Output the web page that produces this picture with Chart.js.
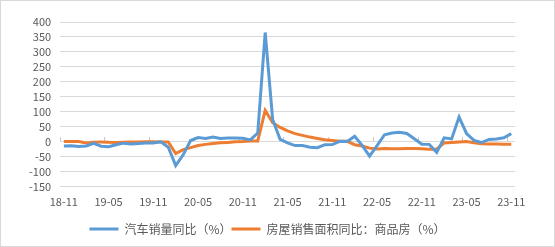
<!DOCTYPE html>
<html>
<head>
<meta charset="utf-8">
<script src="https://cdn.jsdelivr.net/npm/chart.js@4"></script>
<style>
  html, body { margin: 0; padding: 0; background: #fff; }
  .frame { width: 555px; height: 247px; box-sizing: border-box; border: 1px solid #d9d9d9; }
  canvas { display: block; }
</style>
</head>
<body>
<div class="frame"><canvas id="chart" width="553" height="245"></canvas></div>
<script>
// months 2018-11 .. 2023-11
const months = [
  '18-11', '18-12',
  '19-01', '19-02', '19-03', '19-04', '19-05', '19-06', '19-07', '19-08', '19-09', '19-10', '19-11', '19-12',
  '20-01', '20-02', '20-03', '20-04', '20-05', '20-06', '20-07', '20-08', '20-09', '20-10', '20-11', '20-12',
  '21-01', '21-02', '21-03', '21-04', '21-05', '21-06', '21-07', '21-08', '21-09', '21-10', '21-11', '21-12',
  '22-01', '22-02', '22-03', '22-04', '22-05', '22-06', '22-07', '22-08', '22-09', '22-10', '22-11', '22-12',
  '23-01', '23-02', '23-03', '23-04', '23-05', '23-06', '23-07', '23-08', '23-09', '23-10', '23-11'
];

// 汽车销量同比（%）
const carSales = [
  -13.9, -13.0,
  -15.8, -13.8, -5.2, -14.6, -16.4, -9.6, -4.3, -6.9, -5.2, -4.0, -3.6, -0.1,
  -18.0, -79.1, -43.3, 4.4, 14.5, 11.6, 16.4, 11.6, 12.8, 12.5, 11.7, 6.4,
  29.5, 365.0, 74.9, 8.6, -3.1, -12.4, -11.9, -18.1, -19.6, -9.4, -9.1, 1.6,
  0.9, 18.7, -11.7, -47.6, -12.6, 23.8, 29.7, 32.1, 28.1, 10.4, -7.9, -8.4,
  -35.0, 13.5, 9.7, 82.7, 27.9, 4.8, -2.2, 8.2, 9.5, 13.8, 27.4
];

// 房屋销售面积同比：商品房（%）
const housingArea = [
  1.4, 1.3,
  1.3, -3.6, -0.9, -0.3, -1.6, -2.2, -1.3, -0.6, -0.1, 0.1, 0.2, -0.1,
  -0.1, -39.2, -26.3, -19.3, -12.3, -8.4, -5.8, -3.3, -1.8, 0.0, 1.3, 3.2,
  3.2, 104.9, 63.8, 48.1, 36.3, 27.5, 21.5, 15.9, 11.3, 7.2, 4.8, 1.9,
  1.9, -9.6, -13.8, -20.9, -23.6, -22.2, -23.1, -23.0, -22.2, -22.3, -23.3, -24.3,
  -24.3, -3.6, -1.8, -0.4, 0.9, -2.8, -6.5, -7.1, -7.5, -7.8, -8.0
];

const textColor = '#595959';
const gridColor = '#d9d9d9';
const fontFamily = '"Microsoft YaHei", "Noto Sans CJK SC", sans-serif';

new Chart(document.getElementById('chart'), {
  type: 'line',
  data: {
    labels: months,
    datasets: [
      {
        label: '汽车销量同比（%）',
        data: carSales,
        borderColor: '#5b9bd5',
        backgroundColor: '#5b9bd5',
        borderWidth: 3,
        pointRadius: 0,
        tension: 0,
        xAxisID: 'x'
      },
      {
        label: '房屋销售面积同比：商品房（%）',
        data: housingArea,
        borderColor: '#ed7d31',
        backgroundColor: '#ed7d31',
        borderWidth: 3,
        pointRadius: 0,
        tension: 0,
        xAxisID: 'x'
      }
    ]
  },
  options: {
    responsive: false,
    animation: false,
    layout: { padding: { left: 19, right: 39, top: 21, bottom: 1 } },
    scales: {
      x: {
        type: 'category',
        offset: true,
        grid: { display: false, drawTicks: false },
        border: { display: false },
        ticks: {
          autoSkip: false,
          maxRotation: 0,
          padding: 8,
          color: textColor,
          font: { family: fontFamily, size: 11 },
          callback: (v, i) => (i % 6 === 0 ? months[i] : '')
        },
        // extra room under the labels, before the legend
        afterFit: scale => { scale.height += 7; }
      },
      // horizontal axis line crossing at zero, only tick marks
      x0: {
        type: 'category',
        axis: 'x',
        position: { y: 0 },
        offset: true,
        grid: {
          offset: true,
          drawOnChartArea: false,
          drawTicks: true,
          tickLength: -5,
          color: ctx => (ctx.index % 6 === 0 ? '#c8c8c8' : 'rgba(0,0,0,0)')
        },
        border: { display: false },
        ticks: { display: false, autoSkip: false }
      },
      y: {
        min: -150,
        max: 400,
        grid: { color: gridColor, drawTicks: false },
        border: { display: false },
        ticks: {
          stepSize: 50,
          autoSkip: false,
          padding: 9,
          color: textColor,
          font: { family: fontFamily, size: 11 }
        }
      }
    },
    plugins: {
      tooltip: { enabled: false },
      legend: {
        position: 'bottom',
        labels: {
          usePointStyle: true,
          pointStyle: 'line',
          pointStyleWidth: 29,
          padding: 0,
          color: textColor,
          font: { family: fontFamily, size: 12 }
        }
      }
    }
  }
});
</script>
</body>
</html>
